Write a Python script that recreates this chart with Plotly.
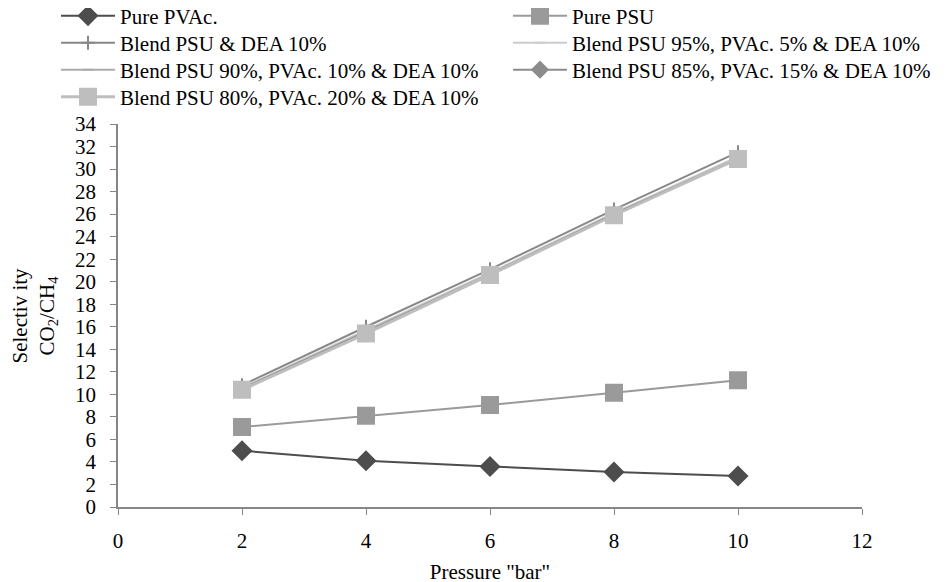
import plotly.graph_objects as go

pressure = [2, 4, 6, 8, 10]
pure_pvac = [5.0, 4.1, 3.6, 3.1, 2.75]
pure_psu = [7.1, 8.1, 9.05, 10.15, 11.25]
blend_dea10 = [10.8, 16.0, 21.1, 26.4, 31.5]
blend_95_5 = [10.6, 15.7, 20.8, 26.1, 31.1]
blend_90_10 = [10.5, 15.6, 20.7, 26.0, 31.0]
blend_85_15 = [10.5, 15.5, 20.6, 26.0, 30.9]
blend_80_20 = [10.4, 15.4, 20.6, 25.9, 30.9]

names = ["Pure PVAc.", "Pure PSU", "Blend PSU & DEA 10%",
         "Blend PSU 95%, PVAc. 5% & DEA 10%",
         "Blend PSU 90%, PVAc. 10% & DEA 10%",
         "Blend PSU 85%, PVAc. 15% & DEA 10%",
         "Blend PSU 80%, PVAc. 20% & DEA 10%"]
series = [pure_pvac, pure_psu, blend_dea10, blend_95_5, blend_90_10, blend_85_15, blend_80_20]
colors = ["#4d4d4d", "#9a9a9a", "#888888", "#cccccc", "#acacac", "#8c8c8c", "#bebebe"]
symbols = ["diamond", "square", "cross-thin", "line-ew", "line-ew", "diamond", "square"]
sizes = [14, 16, 10, 8, 8, 12, 16]
widths = [2, 2, 2, 2, 2, 2, 3]
y_title = "Selectiv ity<br>CO<sub>2</sub>/CH<sub>4</sub>"
x_title = 'Pressure "bar"'

# legend layout: (column, row) for each entry
leg_col = [0, 1, 0, 1, 0, 1, 0]
leg_row = [0, 0, 1, 1, 2, 2, 3]

font = "Liberation Serif, Times New Roman, serif"
W, H = 947, 582
OFF = 8  # page body margin
ml, mr, mt, mb = 118 - OFF, W - 862 + OFF, 124 - OFF, H - 507 + OFF
plot_h = H - mt - mb
plot_w = W - ml - mr

fig = go.Figure()
layout_legends = {}
col_x = [0.0507, 0.528]
row_y_page = [16, 43, 70, 97]
for i, (n, s, c, sym, sz, w) in enumerate(zip(names, series, colors, symbols, sizes, widths)):
    lid = "legend" if i == 0 else f"legend{i + 1}"
    fig.add_trace(go.Scatter(
        x=pressure, y=s, name=n, mode="lines+markers", legend=lid,
        line=dict(color=c, width=w),
        marker=dict(symbol=sym, size=sz, color=c, line=dict(color=c, width=2)),
    ))
    yfig = row_y_page[leg_row[i]] - OFF
    layout_legends[lid] = dict(
        orientation="v", xref="container", yref="paper",
        x=col_x[leg_col[i]], y=(H - mb - yfig) / plot_h,
        xanchor="left", yanchor="middle", itemwidth=54,
        font=dict(family=font, size=21, color="black"),
        bgcolor="rgba(0,0,0,0)")

fig.add_annotation(
    text=y_title, textangle=-90, showarrow=False,
    xref="paper", yref="paper", x=(34 - OFF - ml) / plot_w, y=0.5,
    xanchor="center", yanchor="middle",
    font=dict(family=font, size=21, color="black"))

fig.update_layout(
    width=W, height=H,
    margin=dict(l=ml, r=mr, t=mt, b=mb, autoexpand=False),
    plot_bgcolor="white", paper_bgcolor="white",
    font=dict(family=font, size=21, color="black"),
    showlegend=True,
    xaxis=dict(range=[0, 12], dtick=2, tick0=0, showgrid=False, zeroline=False,
               showline=True, linecolor="#868686", linewidth=1.5,
               ticks="outside", ticklen=6, tickcolor="#868686",
               ticklabelstandoff=8,
               tickfont=dict(family=font, size=21),
               title=dict(text=x_title, font=dict(family=font, size=21), standoff=12)),
    yaxis=dict(range=[0, 34], dtick=2, tick0=0, showgrid=False, zeroline=False,
               showline=True, linecolor="#868686", linewidth=1.5,
               ticks="outside", ticklen=6, tickcolor="#868686",
               ticklabelstandoff=10,
               tickfont=dict(family=font, size=21)),
    **layout_legends,
)

fig.write_html("out.html")
